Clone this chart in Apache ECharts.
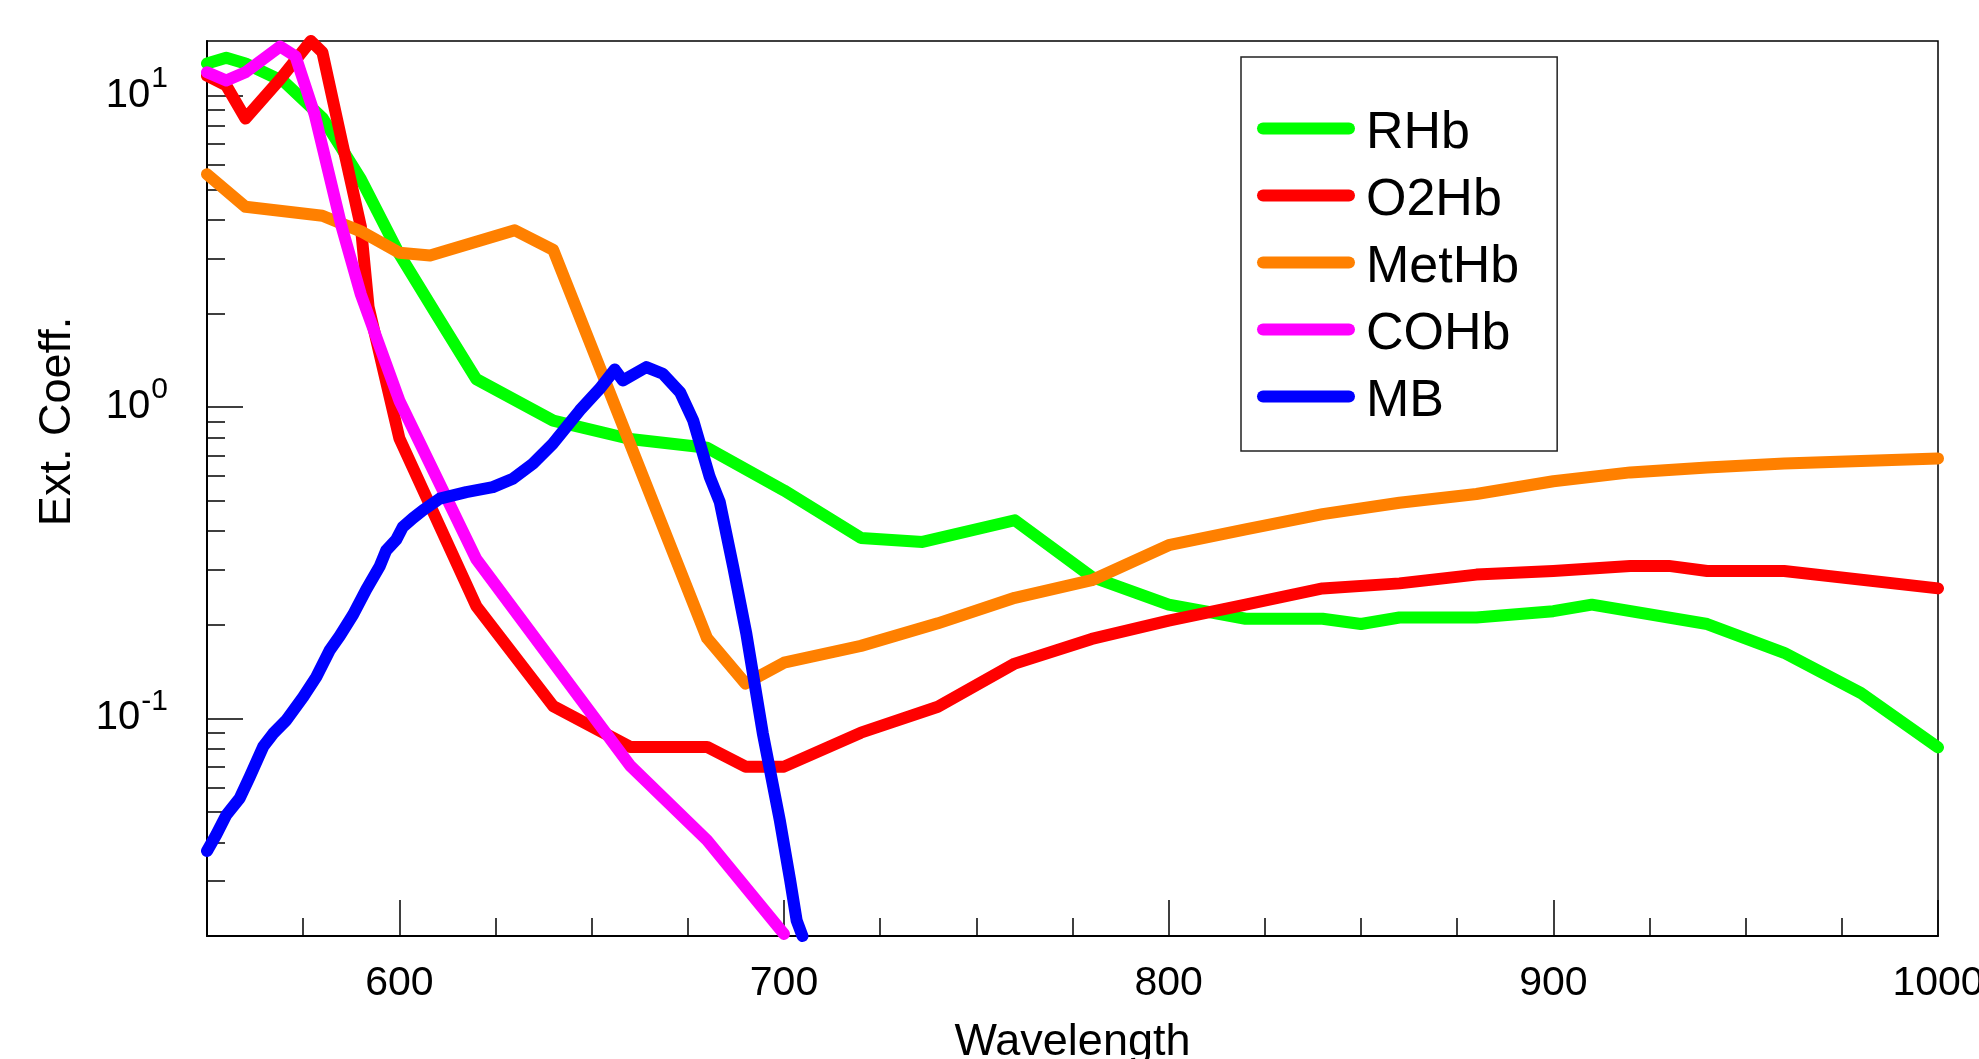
<!DOCTYPE html>
<html><head><meta charset="utf-8">
<script src="https://cdn.jsdelivr.net/npm/echarts@6/dist/echarts.min.js"></script>
<style>html,body{margin:0;padding:0;background:#fff;}#c{width:1979px;height:1059px;}</style>
</head><body><div id="c"></div>
<script>
// ---- data ----
const RHB_WL  = [550,555,560,570,580,590,600,610,620,640,660,680,700,720,736,760,780,800,820,840,850,860,880,900,910,940,960,980,1000];
const RHB_VAL = [12.7,13.25,12.7,11.1,8.5,5.4,3.1,1.95,1.23,0.905,0.79,0.74,0.54,0.38,0.369,0.433,0.285,0.232,0.209,0.209,0.201,0.211,0.211,0.221,0.232,0.201,0.1625,0.1206,0.0807];

const O2HB_WL  = [550,555,560,569,577,580,585,590,592,600,620,640,660,680,690,700,720,740,760,780,800,820,840,860,880,900,920,930,940,960,1000];
const O2HB_VAL = [11.6,10.8,8.45,11.3,15.0,13.8,7.2,3.8,2.1,0.795,0.2295,0.1095,0.081,0.081,0.07,0.07,0.09,0.109,0.15,0.18,0.206,0.232,0.2616,0.2715,0.2897,0.2975,0.309,0.309,0.2975,0.2975,0.2616];

const METHB_WL  = [550,560,580,590,600,608,630,640,680,690,700,720,740,760,780,800,820,840,860,880,900,920,940,960,1000];
const METHB_VAL = [5.6,4.4,4.12,3.67,3.13,3.07,3.7,3.2,0.181,0.1294,0.151,0.171,0.202,0.244,0.278,0.36,0.405,0.453,0.493,0.526,0.578,0.617,0.64,0.659,0.684];

const COHB_WL  = [550,555,560,569,573,578,585,590,600,620,660,680,700];
const COHB_VAL = [11.9,11.2,11.9,14.4,13.4,8.7,3.8,2.3,1.05,0.325,0.0705,0.0406,0.0203];

const MB_WL  = [550,552.4,555,558.5,561.1,564.6,567.2,570.6,575,578.4,581.9,584.5,588,591.4,594.9,596.6,599.2,600.9,603.5,606.1,610.5,617.4,624.3,629.5,634.7,639.9,646.9,652.1,656,658.1,664.2,668.5,673,676.4,680.7,683.3,686.8,690.2,694.5,698.9,701.6,703.3,704.8];
const MB_VAL = [0.0375,0.0423,0.0489,0.0554,0.0649,0.0811,0.0894,0.0987,0.1172,0.1359,0.1656,0.184,0.2156,0.2594,0.308,0.3467,0.3753,0.4118,0.4396,0.466,0.508,0.5334,0.5534,0.5889,0.658,0.763,0.976,1.146,1.321,1.218,1.344,1.28,1.115,0.906,0.596,0.4955,0.3064,0.1874,0.0894,0.0471,0.0302,0.0224,0.02];

const SERIES_NAMES = ['RHb','O2Hb','MetHb','COHb','MB'];
const X_MAJOR_TICKS = [600,700,800,900,1000];
const X_MINOR_TICKS = [575,625,650,675,725,750,775,825,850,875,925,950,975];
const Y_MAJOR_TICKS = [0.1,1,10];
const Y_MINOR_TICKS = [0.03,0.04,0.05,0.06,0.07,0.08,0.09,0.2,0.3,0.4,0.5,0.6,0.7,0.8,0.9,2,3,4,5,6,7,8,9];

// ---- chart ----
const FONT = '"Liberation Sans", Arial, Helvetica, sans-serif';
const COLORS = ['#00ff00','#ff0000','#ff8000','#ff00ff','#0000ff'];
const zip = (a, b) => a.map((x, i) => [x, b[i]]);
const DATA = [zip(RHB_WL,RHB_VAL), zip(O2HB_WL,O2HB_VAL), zip(METHB_WL,METHB_VAL), zip(COHB_WL,COHB_VAL), zip(MB_WL,MB_VAL)];

const GRID = {left:207, top:41, width:1731, height:895};
const chart = echarts.init(document.getElementById('c'), null, {renderer:'canvas'});
const tickStyle = {color:'#000', width:1.5};

chart.setOption({
  animation:false,
  backgroundColor:'#fff',
  textStyle:{fontFamily:FONT},
  grid:[
    Object.assign({show:true, borderColor:'#000', borderWidth:1.5, backgroundColor:'transparent', containLabel:false, outerBoundsMode:'none'}, GRID),
    Object.assign({show:false, containLabel:false, outerBoundsMode:'none'}, GRID)
  ],
  xAxis:[
    {type:'value', gridIndex:0, min:550, max:1000, position:'bottom',
     axisLine:{show:true, onZero:false, lineStyle:{color:'#000', width:2}},
     axisTick:{show:true, inside:true, length:36, lineStyle:tickStyle, customValues:X_MAJOR_TICKS},
     axisLabel:{show:true, customValues:X_MAJOR_TICKS, margin:27, fontSize:41, color:'#000', fontFamily:FONT,
       formatter:function(v){ return String(v); }},
     splitLine:{show:false},
     name:'Wavelength', nameLocation:'middle', nameGap:84,
     nameTextStyle:{fontSize:45, color:'#000', fontFamily:FONT}},
    {type:'value', gridIndex:1, min:550, max:1000, position:'bottom',
     axisLine:{show:false, onZero:false},
     axisTick:{show:true, inside:true, length:18, lineStyle:tickStyle, customValues:X_MINOR_TICKS},
     axisLabel:{show:false}, splitLine:{show:false}}
  ],
  yAxis:[
    {type:'log', gridIndex:0, min:0.02, max:15, logBase:10, position:'left',
     axisLine:{show:true, onZero:false, lineStyle:{color:'#000', width:2}},
     axisTick:{show:true, inside:true, length:36, lineStyle:tickStyle, customValues:Y_MAJOR_TICKS},
     axisLabel:{show:true, customValues:Y_MAJOR_TICKS, margin:39, color:'#000',
       formatter:function(v){ const e = Math.round(Math.log10(v)); return '{b|10}{s|' + e + '}'; },
       rich:{
         b:{fontSize:40, lineHeight:40, padding:[18,0,0,0], verticalAlign:'bottom', color:'#000', fontFamily:FONT},
         s:{fontSize:30, lineHeight:30, padding:[0,0,22,1], verticalAlign:'bottom', color:'#000', fontFamily:FONT}
       }},
     splitLine:{show:false}, minorTick:{show:false},
     name:'Ext. Coeff.', nameLocation:'middle', nameGap:127,
     nameTextStyle:{fontSize:45, color:'#000', fontFamily:FONT, padding:[0,0,0,134]}},
    {type:'log', gridIndex:1, min:0.02, max:15, logBase:10, position:'left',
     axisLine:{show:false, onZero:false},
     axisTick:{show:true, inside:true, length:18, lineStyle:tickStyle, customValues:Y_MINOR_TICKS},
     axisLabel:{show:false}, splitLine:{show:false}}
  ],
  legend:{
    show:true, orient:'vertical', left:1241, top:57,
    padding:[43,38,16,16], itemWidth:98, itemHeight:22, itemGap:0,
    borderColor:'#222', borderWidth:1.5, backgroundColor:'#fff',
    icon:'path://M0,22 M6,0 L92,0 A6,6 0 0 1 92,12 L6,12 A6,6 0 0 1 6,0 Z',
    textStyle:{fontSize:52, lineHeight:67, color:'#000', fontFamily:FONT, padding:[0,0,0,6]},
    data:SERIES_NAMES
  },
  series: SERIES_NAMES.map((n, i) => ({
    name:n, type:'line', xAxisIndex:0, yAxisIndex:0, data:DATA[i],
    symbol:'none', showSymbol:false, smooth:false, clip:false,
    color:COLORS[i],
    lineStyle:{color:COLORS[i], width:12, cap:'round', join:'round'},
    itemStyle:{color:COLORS[i]}
  }))
});
</script></body></html>
